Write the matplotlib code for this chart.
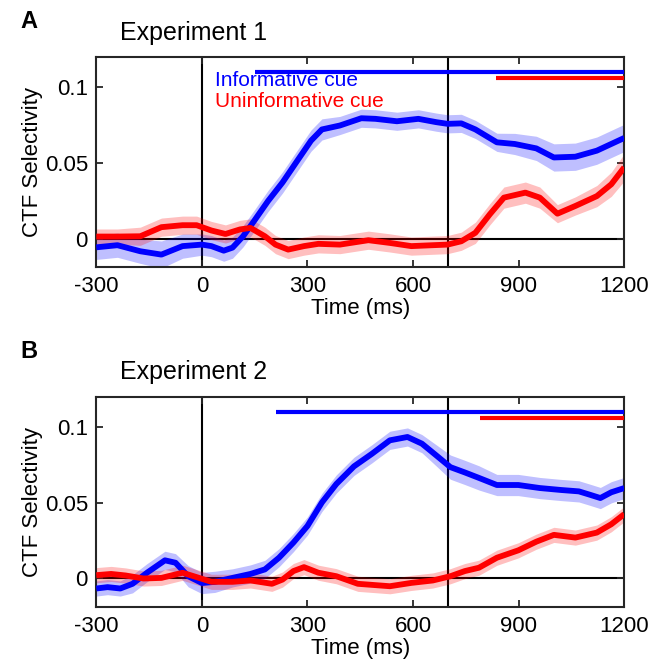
import numpy as np
import matplotlib.pyplot as plt

plt.rcParams['font.family'] = ['Liberation Sans', 'DejaVu Sans']

# ---- Experiment 1 ----
t_a_inf = [-300, -240, -175, -115, -55, 0, 27, 62, 87, 117, 148, 188, 229, 270, 310,
           341, 392, 453, 493, 554, 615, 666, 698, 737, 777, 838, 889, 950, 1000,
           1061, 1122, 1200]
a_inf = [-0.0058, -0.0044, -0.0084, -0.0106, -0.005, -0.004, -0.005, -0.008, -0.006,
         0.0015, 0.0115, 0.0248, 0.037, 0.051, 0.0646, 0.072, 0.0746, 0.0794, 0.079,
         0.0774, 0.079, 0.0768, 0.0757, 0.076, 0.072, 0.0635, 0.0624, 0.0595, 0.0535,
         0.054, 0.058, 0.0664]
a_inf_sem = [0.008, 0.008, 0.008, 0.009, 0.008, 0.007, 0.007, 0.007, 0.007, 0.007,
             0.007, 0.007, 0.007, 0.007, 0.007, 0.007, 0.006, 0.006, 0.006, 0.006,
             0.006, 0.006, 0.006, 0.006, 0.006, 0.006, 0.007, 0.008, 0.009, 0.009,
             0.009, 0.009]

t_a_uni = [-300, -240, -175, -115, -55, -15, 27, 67, 108, 138, 179, 209, 245, 290,
           331, 392, 473, 534, 595, 656, 698, 737, 777, 818, 858, 919, 960, 1010,
           1061, 1122, 1163, 1200]
a_uni = [0.0013, 0.0013, 0.0015, 0.0075, 0.0088, 0.0088, 0.0053, 0.003, 0.006, 0.007,
         0.0015, -0.004, -0.0073, -0.005, -0.0035, -0.004, -0.0011, -0.0029, -0.005,
         -0.0044, -0.004, -0.0018, 0.0038, 0.016, 0.027, 0.0303, 0.027, 0.0164,
         0.0215, 0.028, 0.0358, 0.047]
a_uni_sem = [0.005, 0.005, 0.006, 0.006, 0.006, 0.006, 0.006, 0.006, 0.006, 0.006,
             0.006, 0.006, 0.006, 0.006, 0.006, 0.006, 0.006, 0.006, 0.006, 0.006,
             0.006, 0.006, 0.007, 0.007, 0.007, 0.007, 0.007, 0.006, 0.006, 0.007,
             0.008, 0.009]

# ---- Experiment 2 ----
t_b_inf = [-300, -268, -232, -197, -156, -105, -75, -39, 0, 37, 87, 138, 179, 219,
           260, 300, 341, 382, 432, 483, 534, 584, 625, 666, 706, 747, 787, 838, 899,
           960, 1021, 1071, 1102, 1132, 1163, 1200]
b_inf = [-0.0066, -0.0057, -0.0066, -0.0035, 0.0038, 0.012, 0.0104, 0.0015, -0.003,
         -0.0022, 0.0004, 0.003, 0.006, 0.0137, 0.0237, 0.0347, 0.0502, 0.0624, 0.074,
         0.0823, 0.0912, 0.0934, 0.089, 0.0812, 0.0735, 0.070, 0.0664, 0.0617, 0.0617,
         0.0597, 0.0584, 0.0575, 0.0553, 0.0531, 0.0569, 0.0597]
b_inf_sem = [0.005, 0.005, 0.005, 0.006, 0.006, 0.006, 0.006, 0.007, 0.007, 0.007,
             0.006, 0.006, 0.006, 0.006, 0.006, 0.006, 0.006, 0.006, 0.006, 0.006,
             0.006, 0.006, 0.006, 0.007, 0.008, 0.008, 0.008, 0.007, 0.007, 0.007,
             0.007, 0.007, 0.007, 0.007, 0.007, 0.007]

t_b_uni = [-300, -258, -217, -166, -115, -55, -15, 27, 87, 138, 199, 229, 260, 290,
           331, 382, 443, 534, 595, 656, 706, 747, 787, 838, 899, 950, 1000, 1061,
           1122, 1163, 1200]
b_uni = [0.0022, 0.003, 0.002, 0.0, 0.0004, 0.0038, 0.0009, -0.0022, -0.0022,
         -0.0013, -0.0035, -0.0007, 0.0049, 0.0075, 0.0038, 0.0015, -0.0035, -0.0051,
         -0.0029, -0.0013, 0.0015, 0.0049, 0.0071, 0.0137, 0.0186, 0.0243, 0.0288,
         0.027, 0.0303, 0.0358, 0.0425]
b_uni_sem = [0.005] * 31

# significance bars (start time, y level)
sig_a = {'inf': (151, 0.1097), 'uni': (835, 0.106)}
sig_b = {'inf': (211, 0.1097), 'uni': (790, 0.106)}

xticks = [-300, 0, 300, 600, 900, 1200]
yticks = [0, 0.05, 0.1]
ytick_labels = ['0', '0.05', '0.1']

blue = '#0000ff'
red = '#ff0000'

fig = plt.figure(figsize=(6.52, 6.72), dpi=100)
ax_a = fig.add_axes([0.1477, 0.6022, 0.8098, 0.3134])
ax_b = fig.add_axes([0.1477, 0.0963, 0.8098, 0.3134])


def draw_panel(ax, t_inf, inf, inf_sem, t_uni, uni, uni_sem, sig):
    t_inf = np.array(t_inf); inf = np.array(inf); inf_sem = np.array(inf_sem)
    t_uni = np.array(t_uni); uni = np.array(uni); uni_sem = np.array(uni_sem)
    ax.axhline(0, color='k', lw=1.5, zorder=1)
    ax.axvline(0, color='k', lw=1.5, zorder=1)
    ax.axvline(700, color='k', lw=1.5, zorder=1)
    ax.fill_between(t_inf, inf - inf_sem, inf + inf_sem, color=blue, alpha=0.25,
                    lw=0, zorder=2)
    ax.fill_between(t_uni, uni - uni_sem, uni + uni_sem, color=red, alpha=0.25,
                    lw=0, zorder=2)
    ax.plot(t_inf, inf, color=blue, lw=4.2, solid_joinstyle='round',
            solid_capstyle='butt', zorder=3)
    ax.plot(t_uni, uni, color=red, lw=4.2, solid_joinstyle='round',
            solid_capstyle='butt', zorder=4)
    ax.plot([sig['inf'][0], 1200], [sig['inf'][1]] * 2, color=blue, lw=3,
            solid_capstyle='butt', clip_on=False, zorder=5)
    ax.plot([sig['uni'][0], 1200], [sig['uni'][1]] * 2, color=red, lw=3,
            solid_capstyle='butt', clip_on=False, zorder=5)
    ax.set_xlim(-300, 1200)
    ax.set_ylim(-0.019, 0.12)
    ax.set_xticks(xticks)
    ax.set_xticklabels([str(x) for x in xticks])
    ax.set_yticks(yticks)
    ax.set_yticklabels(ytick_labels)
    ax.tick_params(direction='in', top=True, right=True, length=5, width=1.3,
                   color='#262626', labelsize=16, pad=6)
    for s in ax.spines.values():
        s.set_linewidth(1.5)
        s.set_color('#262626')
    ax.set_xlabel('Time (ms)', fontsize=16, labelpad=1)
    ax.set_ylabel('CTF Selectivity', fontsize=16, labelpad=1)


draw_panel(ax_a, t_a_inf, a_inf, a_inf_sem, t_a_uni, a_uni, a_uni_sem, sig_a)
draw_panel(ax_b, t_b_inf, b_inf, b_inf_sem, t_b_uni, b_uni, b_uni_sem, sig_b)

ax_a.text(0.224, 0.885, 'Informative cue', color=blue, fontsize=15,
          transform=ax_a.transAxes, va='center', ha='left')
ax_a.text(0.224, 0.787, 'Uninformative cue', color=red, fontsize=15,
          transform=ax_a.transAxes, va='center', ha='left')

fig.text(120 / 652, 1 - 33 / 672, 'Experiment 1', fontsize=18, va='center', ha='left')
fig.text(120 / 652, 1 - 372 / 672, 'Experiment 2', fontsize=18, va='center', ha='left')
fig.text(20 / 652, 1 - 22 / 672, 'A', fontsize=17, fontweight='bold', va='center', ha='left')
fig.text(20 / 652, 1 - 352 / 672, 'B', fontsize=17, fontweight='bold', va='center', ha='left')

fig.savefig('out.png', dpi=100)
